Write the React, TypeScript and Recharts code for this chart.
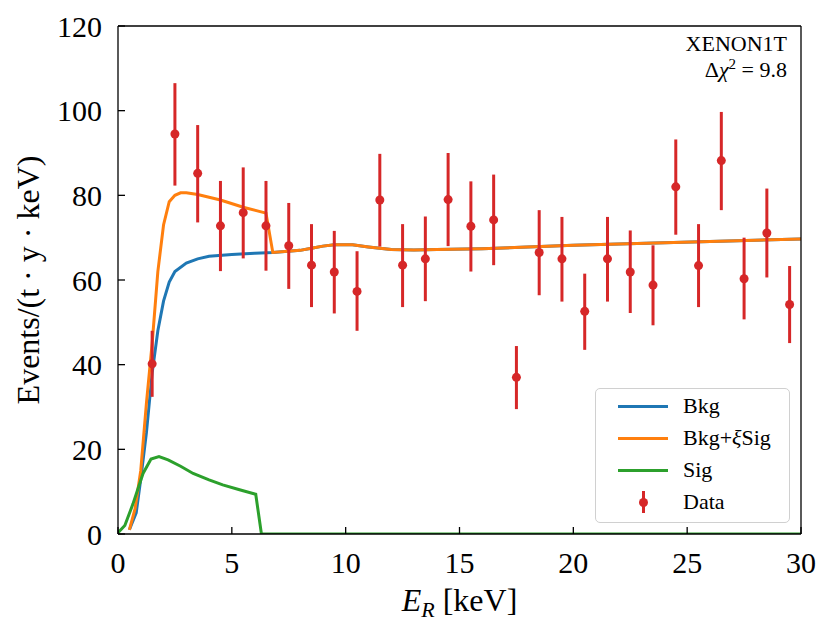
import { ComposedChart, Line, Scatter, ErrorBar, XAxis, YAxis, Label } from 'recharts'

const FONT = '"Liberation Serif", "DejaVu Serif", serif'
const BLUE = '#1f77b4'
const ORANGE = '#ff7f0e'
const GREEN = '#2ca02c'
const RED = '#d62728'

const binCenters = [
  1.5, 2.5, 3.5, 4.5, 5.5, 6.5, 7.5, 8.5, 9.5, 10.5, 11.5, 12.5, 13.5, 14.5, 15.5,
  16.5, 17.5, 18.5, 19.5, 20.5, 21.5, 22.5, 23.5, 24.5, 25.5, 26.5, 27.5, 28.5, 29.5,
]
const counts = [
  40.2, 94.5, 85.2, 72.8, 75.9, 72.8, 68.1, 63.5, 61.9, 57.3, 78.9, 63.5, 65.0, 79.0, 72.7,
  74.2, 37.0, 66.5, 65.0, 52.6, 65.0, 61.9, 58.8, 82.0, 63.4, 88.2, 60.3, 71.1, 54.2,
]
const upper = [
  48.0, 106.5, 96.6, 83.4, 86.6, 83.4, 78.2, 73.2, 71.6, 66.8, 89.8, 73.2, 75.0, 90.0, 83.3,
  84.9, 44.4, 76.5, 74.9, 61.5, 74.9, 71.7, 68.2, 93.2, 73.2, 99.7, 70.0, 81.6, 63.3,
]
const lower = [
  32.4, 82.3, 73.6, 62.1, 65.1, 62.2, 57.9, 53.6, 52.1, 48.0, 67.9, 53.6, 55.0, 68.0, 62.0,
  63.5, 29.5, 56.4, 54.9, 43.5, 54.9, 52.2, 49.3, 70.7, 53.6, 76.5, 50.7, 60.6, 45.1,
]

// background model
const bkgX = [
  0.5, 0.8, 1.0, 1.25, 1.5, 1.75, 2.0, 2.25, 2.5, 3.0, 3.5, 4.0, 5.0, 6.0, 6.8,
  8.0, 8.5, 9.0, 9.5, 10.3, 11.0, 12.0, 13.0, 14.0, 16.0, 18.0, 20.0, 22.0, 24.0, 26.0, 28.0, 30.0,
]
const bkgY = [
  1.0, 5.0, 13.0, 24.0, 38.0, 48.0, 55.0, 59.5, 62.0, 64.0, 65.0, 65.6, 66.0, 66.3, 66.5,
  67.0, 67.5, 68.0, 68.3, 68.3, 67.8, 67.2, 67.1, 67.2, 67.4, 67.8, 68.2, 68.5, 68.8, 69.1, 69.4, 69.7,
]

// background + signal
const totX = [
  0.5, 0.75, 1.0, 1.25, 1.5, 1.75, 2.0, 2.25, 2.5, 2.75, 3.0, 3.5, 4.5, 5.5, 6.5, 6.8,
  8.0, 8.5, 9.0, 9.5, 10.3, 11.0, 12.0, 13.0, 14.0, 16.0, 18.0, 20.0, 22.0, 24.0, 26.0, 28.0, 30.0,
]
const totY = [
  1.0, 6.0, 15.0, 31.0, 45.0, 62.0, 73.0, 78.5, 80.0, 80.6, 80.6, 80.2, 78.9, 77.2, 75.8, 66.5,
  67.0, 67.5, 68.0, 68.3, 68.3, 67.8, 67.2, 67.1, 67.2, 67.4, 67.8, 68.2, 68.5, 68.8, 69.1, 69.4, 69.7,
]

// signal alone
const sigX = [0, 0.3, 0.65, 1.1, 1.45, 1.8, 2.2, 2.75, 3.3, 4.0, 4.6, 5.3, 6.05, 6.3, 30]
const sigY = [0.3, 2.0, 7.0, 14.3, 17.7, 18.3, 17.5, 16.0, 14.3, 12.8, 11.6, 10.5, 9.4, 0, 0]

const xTicks = [0, 5, 10, 15, 20, 25, 30]
const yTicks = [0, 20, 40, 60, 80, 100, 120]

const pts = (xs: number[], ys: number[]) => xs.map((x, i) => ({ x, y: ys[i] }))
const bkgData = pts(bkgX, bkgY)
const totData = pts(totX, totY)
const sigData = pts(sigX, sigY)
const obsData = binCenters.map((x, i) => ({
  x,
  y: counts[i],
  err: [counts[i] - lower[i], upper[i] - counts[i]],
}))

const tickStyle = { fontFamily: FONT, fontSize: 30, fill: '#000' }
const axisLine = { stroke: '#000', strokeWidth: 1.3 }

function LegendRow({ label, kind, color }: { label: any; kind: 'line' | 'point'; color: string }) {
  return (
    <div style={{ display: 'flex', alignItems: 'center', height: 32 }}>
      <div style={{ width: 50, marginLeft: 22, height: 26, position: 'relative' }}>
        {kind === 'line' ? (
          <div style={{ position: 'absolute', left: 0, top: 12, width: 50, height: 3, background: color }} />
        ) : (
          <>
            <div style={{ position: 'absolute', left: 23.5, top: 2, width: 3, height: 22, background: color }} />
            <div style={{ position: 'absolute', left: 20.5, top: 8.5, width: 9, height: 9, borderRadius: 5, background: color }} />
          </>
        )}
      </div>
      <span style={{ marginLeft: 15, fontSize: 22 }}>{label}</span>
    </div>
  )
}

export default function App() {
  return (
    <div style={{ position: 'relative', width: 815, height: 620, fontFamily: FONT, color: '#000' }}>
      <ComposedChart width={815} height={620} margin={{ top: 16, right: 20, bottom: 14, left: 0 }}>
        <XAxis
          xAxisId={0}
          dataKey="x"
          type="number"
          domain={[0, 30]}
          ticks={xTicks}
          allowDataOverflow
          height={80}
          tickSize={-7}
          tickMargin={25}
          tick={tickStyle}
          axisLine={axisLine}
          tickLine={axisLine}
        >
          <Label
            content={(p: any) => {
              const vb = p.viewBox || { x: 110, y: 526, width: 683 }
              return (
                <text x={vb.x + vb.width / 2} y={vb.y + 77} textAnchor="middle" fontFamily={FONT} fontSize={32} fill="#000">
                  <tspan fontStyle="italic">E</tspan>
                  <tspan fontStyle="italic" fontSize={22} dy={6}>R</tspan>
                  <tspan dy={-6}> [keV]</tspan>
                </text>
              )
            }}
          />
        </XAxis>
        <XAxis
          xAxisId="top"
          orientation="top"
          type="number"
          domain={[0, 30]}
          ticks={xTicks}
          allowDataOverflow
          height={2}
          tickSize={-7}
          tick={false}
          axisLine={axisLine}
          tickLine={axisLine}
        />
        <YAxis
          yAxisId={0}
          dataKey="y"
          type="number"
          domain={[0, 120]}
          ticks={yTicks}
          allowDataOverflow
          width={110}
          tickSize={-7}
          tickMargin={23}
          tick={tickStyle}
          axisLine={axisLine}
          tickLine={axisLine}
        >
          <Label
            content={(p: any) => {
              const vb = p.viewBox || { x: 0, y: 18, height: 508 }
              const cy = vb.y + vb.height / 2
              return (
                <text
                  x={31}
                  y={cy}
                  transform={`rotate(-90 31 ${cy})`}
                  textAnchor="middle"
                  fontFamily={FONT}
                  fontSize={32}
                  fill="#000"
                >
                  Events/(t · y · keV)
                </text>
              )
            }}
          />
        </YAxis>
        <YAxis
          yAxisId="right"
          orientation="right"
          type="number"
          domain={[0, 120]}
          ticks={yTicks}
          allowDataOverflow
          width={2}
          tickSize={-7}
          tick={false}
          axisLine={axisLine}
          tickLine={axisLine}
        />
        <Line data={bkgData} dataKey="y" type="linear" stroke={BLUE} strokeWidth={3} dot={false} activeDot={false} isAnimationActive={false} />
        <Line data={totData} dataKey="y" type="linear" stroke={ORANGE} strokeWidth={3} dot={false} activeDot={false} isAnimationActive={false} />
        <Line data={sigData} dataKey="y" type="linear" stroke={GREEN} strokeWidth={3} dot={false} activeDot={false} isAnimationActive={false} />
        <Scatter
          data={obsData}
          dataKey="y"
          fill={RED}
          isAnimationActive={false}
          shape={(p: any) => <circle cx={p.cx} cy={p.cy} r={4.5} fill={RED} />}
        >
          <ErrorBar dataKey="err" direction="y" width={0} stroke={RED} strokeWidth={3} isAnimationActive={false} />
        </Scatter>
      </ComposedChart>

      <div style={{ position: 'absolute', right: 36, top: 23, textAlign: 'right', fontSize: 22, lineHeight: '26px' }}>
        <div>XENON1T</div>
        <div>
          Δ<i>χ</i>
          <sup style={{ fontSize: 15, lineHeight: 0 }}>2</sup> = 9.8
        </div>
      </div>

      <div
        style={{
          position: 'absolute',
          left: 587,
          top: 380,
          width: 195,
          height: 135,
          boxSizing: 'border-box',
          paddingTop: 1,
          border: '1.5px solid #d0d0d0',
          borderRadius: 5,
          background: 'rgba(255,255,255,0.85)',
        }}
      >
        <LegendRow label="Bkg" kind="line" color={BLUE} />
        <LegendRow label={<>Bkg+<i>ξ</i>Sig</>} kind="line" color={ORANGE} />
        <LegendRow label="Sig" kind="line" color={GREEN} />
        <LegendRow label="Data" kind="point" color={RED} />
      </div>
    </div>
  )
}
